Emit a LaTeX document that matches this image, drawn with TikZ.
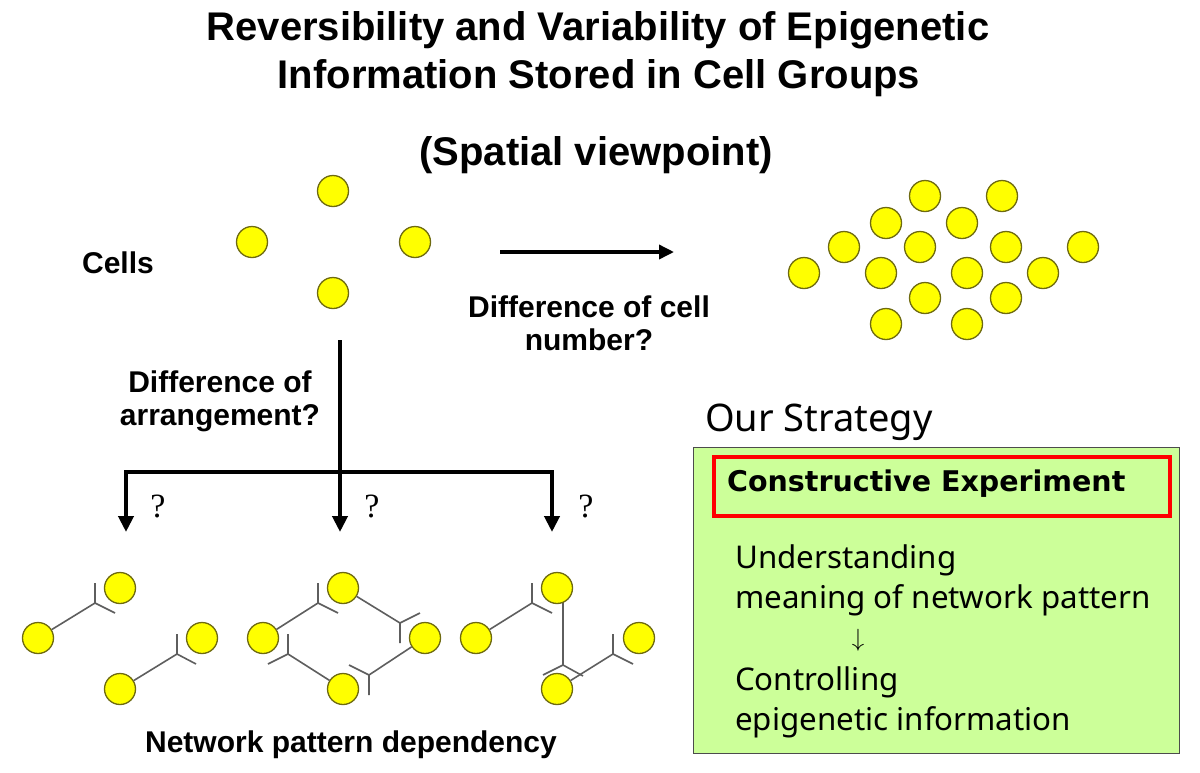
\documentclass[tikz,border=0pt]{standalone}
\usepackage{fontspec}
\setmainfont{Liberation Sans}
\newfontfamily\tah{Noto Sans}
\newfontfamily\tahbold{DejaVu Sans}
\newfontfamily\qfont{Liberation Serif}
\usetikzlibrary{arrows.meta}
\definecolor{cellyellow}{HTML}{FFFF00}
\definecolor{celledge}{HTML}{6E6A10}
\definecolor{boxgreen}{HTML}{CCFF99}
\definecolor{netgray}{HTML}{5E5E5E}
\begin{document}
\begin{tikzpicture}[x=1pt,y=-1pt,
  cell/.style={circle,fill=cellyellow,draw=celledge,line width=1.3pt,minimum size=31pt,inner sep=0pt},
  net/.style={draw=netgray,line width=1.6pt},
  bigarrow/.style={line width=4pt,-{Triangle[width=15pt,length=16pt]}},
  bigline/.style={line width=4pt},
  title/.style={font=\fontsize{40}{46}\selectfont\bfseries,inner sep=0pt},
  lab/.style={font=\fontsize{30}{33}\selectfont\bfseries,inner sep=0pt,align=center},
  qmark/.style={font=\qfont\fontsize{34}{38}\selectfont,inner sep=0pt},
  strat/.style={font=\tah\fontsize{31.3}{36}\selectfont,inner sep=0pt,anchor=west}
]
\useasboundingbox (0,0) rectangle (1200,772);
\fill[white] (0,0) rectangle (1200,772);

% titles
\node[title] (t1) at (598,30) {Reversibility and Variability of Epigenetic};
\node[title] (t2) at (599,78) {Information Stored in Cell Groups};
\node[title] (t3) at (596,155) {(Spatial viewpoint)};

% top four cells
\node[cell] (a1) at (333,191) {};
\node[cell] (a2) at (252,242) {};
\node[cell] (a3) at (415,242) {};
\node[cell] (a4) at (333,293) {};
\node[lab] (cells) at (118,263) {Cells};

% right cluster
\foreach \n/\x/\y in {b1/925/196,b2/1002/196,b3/886/223,b4/962/223,b5/844/247,b6/920/247,b7/1006/247,b8/1083/247,b9/804/273,b10/881/273,b11/967/273,b12/1043/273,b13/925/298,b14/1006/298,b15/886/324,b16/967/324}
  \node[cell] (\n) at (\x,\y) {};

% horizontal arrow
\coordinate (h1) at (500,252);
\coordinate (h2) at (674,252);
\draw[line width=3.5pt,-{Triangle[width=14pt,length=15pt]}] (h1) -- (h2);
\node[lab] (dcell) at (589,323) {Difference of cell\\number?};

% branching arrows
\coordinate (v0) at (340,340);
\coordinate (l0) at (126,472);
\coordinate (r0) at (552,472);
\coordinate (l1) at (126,532);
\coordinate (m1) at (340,532);
\coordinate (r1) at (552,532);
\draw[bigline] (l0) -- (r0);
\draw[bigarrow] (v0) -- (m1);
\draw[bigarrow] ([yshift=2pt]l0) -- (l1);
\draw[bigarrow] ([yshift=2pt]r0) -- (r1);
\node[lab] (darr) at (220,401) {Difference of\\arrangement?};
\node[qmark] (q1) at (158,506) {?};
\node[qmark] (q2) at (372,506) {?};
\node[qmark] (q3) at (586,506) {?};

% network pattern 1
\node[cell] (p1a) at (120,588) {};
\node[cell] (p1b) at (38,638) {};
\node[cell] (p1c) at (202,638) {};
\node[cell] (p1d) at (120,689) {};
\coordinate (j1) at (95,603); \coordinate (j1u) at (95,583); \coordinate (j1r) at (115,613);
\coordinate (j2) at (177,654); \coordinate (j2u) at (177,634); \coordinate (j2r) at (196,664);
\draw[net] (p1b) -- (j1) -- (j1u) (j1) -- (j1r);
\draw[net] (p1d) -- (j2) -- (j2u) (j2) -- (j2r);

% network pattern 2
\node[cell] (p2a) at (343,588) {};
\node[cell] (p2b) at (263,638) {};
\node[cell] (p2c) at (425,638) {};
\node[cell] (p2d) at (343,689) {};
\coordinate (k1) at (318,603); \coordinate (k1u) at (318,583); \coordinate (k1r) at (338,613);
\coordinate (k2) at (400,623); \coordinate (k2d) at (400,643); \coordinate (k2r) at (420,613);
\coordinate (k3) at (288,654); \coordinate (k3u) at (288,634); \coordinate (k3l) at (268,664);
\coordinate (k4) at (369,675); \coordinate (k4d) at (369,695); \coordinate (k4l) at (349,665);
\draw[net] (p2b) -- (k1) -- (k1u) (k1) -- (k1r);
\draw[net] (p2a) -- (k2) -- (k2d) (k2) -- (k2r);
\draw[net] (p2d) -- (k3) -- (k3u) (k3) -- (k3l);
\draw[net] (p2c) -- (k4) -- (k4d) (k4) -- (k4l);

% network pattern 3
\coordinate (m1j) at (532,603); \coordinate (m1u) at (532,583); \coordinate (m1r) at (552,613);
\coordinate (m2t) at (563,600);
\coordinate (m2) at (563,665); \coordinate (m2l) at (543,675); \coordinate (m2r) at (583,676);
\coordinate (m3) at (613,654); \coordinate (m3u) at (613,634); \coordinate (m3r) at (633,664);
\draw[net] (m2t) -- (m2) -- (m2l) (m2) -- (m2r);
\node[cell] (p3a) at (557,588) {};
\node[cell] (p3b) at (476,638) {};
\node[cell] (p3c) at (639,638) {};
\node[cell] (p3d) at (557,689) {};
\draw[net] (p3b) -- (m1j) -- (m1u) (m1j) -- (m1r);
\draw[net] (p3d) -- (m3) -- (m3u) (m3) -- (m3r);

\node[lab] (npd) at (351,745) {Network pattern dependency};

% strategy
\node[font=\tah\fontsize{38}{44}\selectfont,inner sep=0pt,anchor=west] (our) at (705,422) {Our Strategy};
\node[draw=black!70,line width=1pt,fill=boxgreen,minimum width=486pt,minimum height=306pt,anchor=north west,inner sep=0pt] (box) at (693,447) {};
\node[draw=red,line width=3.5pt,minimum width=456pt,minimum height=59pt,anchor=north west,inner sep=0pt] (red) at (712,455) {};
\node[font=\tahbold\fontsize{28.5}{34}\selectfont\bfseries,inner sep=0pt,anchor=west] (ce) at (727,484) {Constructive Experiment};
\node[strat] (s1) at (735,560) {Understanding};
\node[strat] (s2) at (735,600) {meaning of network pattern};
\node[font=\fontsize{26}{30}\selectfont,inner sep=0pt] (s3) at (858,640) {$\downarrow$};
\node[strat] (s4) at (735,682) {Controlling};
\node[strat] (s5) at (735,722) {epigenetic information};
\end{tikzpicture}
\end{document}
